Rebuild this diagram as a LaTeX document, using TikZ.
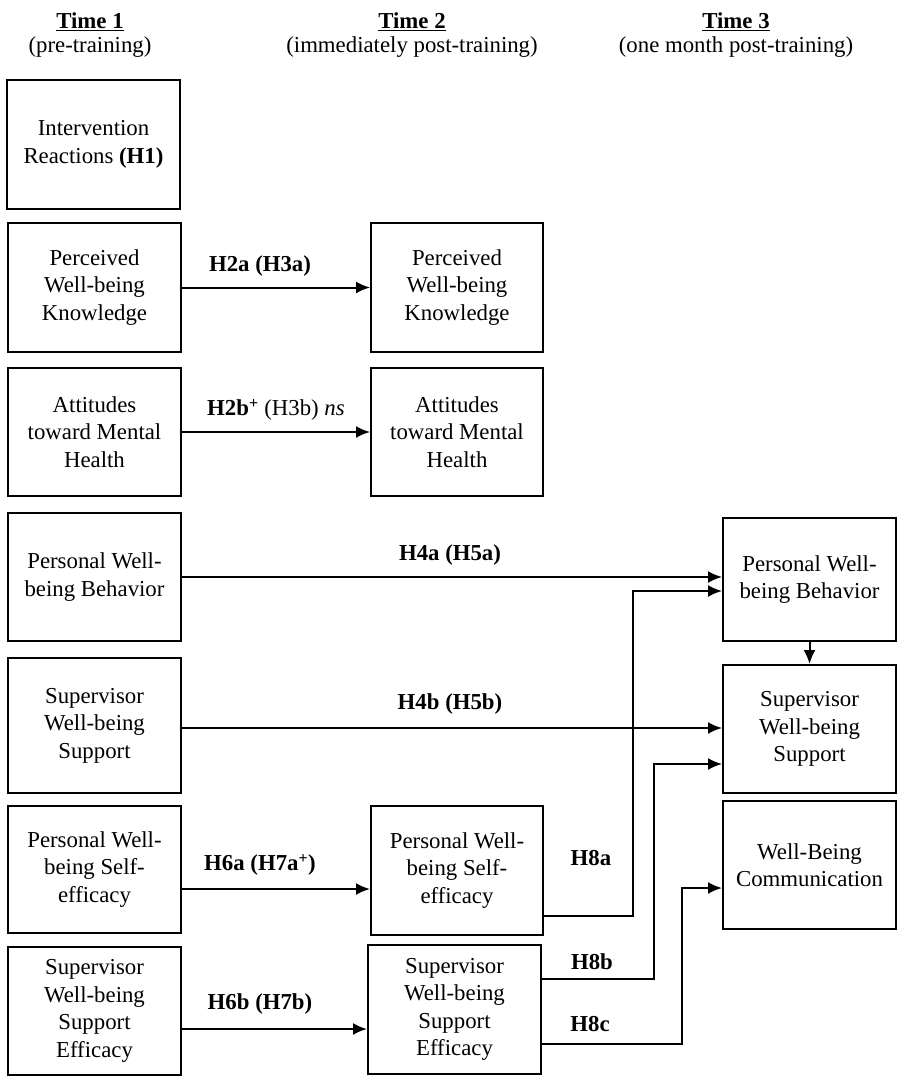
\documentclass[tikz,border=0pt]{standalone}
\usepackage{fontspec}
\setmainfont{Liberation Serif}
\usetikzlibrary{arrows.meta}
\begin{document}
\begin{tikzpicture}[x=1pt,y=-1pt,
  box/.style={draw, line width=2pt, inner sep=0pt, align=center, font=\fontsize{22.8}{27.5}\selectfont},
  arr/.style={line width=2pt, -{Latex[length=14pt,width=12pt]}},
  lab/.style={font=\fontsize{22.8}{27.5}\selectfont\bfseries, inner sep=0pt},
  hd/.style={font=\fontsize{22.8}{27.5}\selectfont, inner sep=0pt, anchor=base}]
\useasboundingbox (0,0) rectangle (904,1078);
% headers
\node[hd] (t1) at (90,29) {\textbf{\underline{Time 1}}};
\node[hd] (s1) at (90,53) {(pre-training)};
\node[hd] (t2) at (412,29) {\textbf{\underline{Time 2}}};
\node[hd] (s2) at (412,53) {(immediately post-training)};
\node[hd] (t3) at (736,29) {\textbf{\underline{Time 3}}};
\node[hd] (s3) at (736,53) {(one month post-training)};
% column 1
\node[box, minimum width=173pt, minimum height=129pt] (A) at (93.5,144.5) {Intervention\\Reactions \textbf{(H1)}};
\node[box, minimum width=173pt, minimum height=129pt] (B) at (94.5,287.5) {Perceived\\Well-being\\Knowledge};
\node[box, minimum width=173pt, minimum height=128pt] (C) at (94.5,432) {Attitudes\\toward Mental\\Health};
\node[box, minimum width=173pt, minimum height=128pt] (D) at (94.5,577) {Personal Well-\\being Behavior};
\node[box, minimum width=173pt, minimum height=135pt] (E) at (94.5,725.5) {Supervisor\\Well-being\\Support};
\node[box, minimum width=173pt, minimum height=127pt] (F) at (94.5,869.5) {Personal Well-\\being Self-\\efficacy};
\node[box, minimum width=173pt, minimum height=128pt] (G) at (94.5,1011) {Supervisor\\Well-being\\Support\\Efficacy};
% column 2
\node[box, minimum width=172pt, minimum height=129pt] (H) at (457,287.5) {Perceived\\Well-being\\Knowledge};
\node[box, minimum width=172pt, minimum height=128pt] (I) at (457,432) {Attitudes\\toward Mental\\Health};
\node[box, minimum width=172pt, minimum height=129pt] (J) at (457,870.5) {Personal Well-\\being Self-\\efficacy};
\node[box, minimum width=173pt, minimum height=129pt] (K) at (454.5,1009.5) {Supervisor\\Well-being\\Support\\Efficacy};
% column 3
\node[box, minimum width=173pt, minimum height=123pt] (L) at (809.5,579.5) {Personal Well-\\being Behavior};
\node[box, minimum width=173pt, minimum height=128pt] (M) at (809.5,729) {Supervisor\\Well-being\\Support};
\node[box, minimum width=173pt, minimum height=128pt] (N) at (809.5,865) {Well-Being\\Communication};
% labels
\node[lab] (l2a) at (260,266) {H2a (H3a)};
\node[lab] (l2b) at (276,410) {H2b\textsuperscript{+} \mdseries(H3b) \textit{ns}};
\node[lab] (l4a) at (450,555) {H4a (H5a)};
\node[lab] (l4b) at (450,704) {H4b (H5b)};
\node[lab] (l6a) at (260,865) {H6a (H7a\textsuperscript{+})};
\node[lab] (l6b) at (260,1004) {H6b (H7b)};
\node[lab] (l8a) at (591,858) {H8a};
\node[lab] (l8b) at (592,962) {H8b};
\node[lab] (l8c) at (590,1024) {H8c};
% connectors
\draw[arr] (B.east) -- (H.west);
\draw[arr] (C.east) -- (I.west);
\draw[arr] (D.east) -- (D.east -| L.west);
\coordinate (e4) at ([yshift=-2.5pt]E.east);
\draw[arr] (e4) -- (e4 -| M.west);
\draw[arr] (L.south) -- (M.north);
\coordinate (f6) at ([yshift=-19.5pt]F.east);
\draw[arr] (f6) -- (f6 -| J.west);
\coordinate (g6) at ([yshift=-18pt]G.east);
\draw[arr] (g6) -- (g6 -| K.west);
\coordinate (j8) at ([yshift=-45.5pt]J.east);
\coordinate (l8) at ([yshift=-11.5pt]L.west);
\draw[arr] (j8) -- ++(89,0) |- (l8);
\coordinate (k8b) at ([yshift=30.5pt]K.east);
\coordinate (m8) at ([yshift=-35pt]M.west);
\draw[arr] (k8b) -- ++(112,0) |- (m8);
\coordinate (k8c) at ([yshift=-34.5pt]K.east);
\coordinate (n8) at ([yshift=-23pt]N.west);
\draw[arr] (k8c) -- ++(140,0) |- (n8);
\end{tikzpicture}
\end{document}
